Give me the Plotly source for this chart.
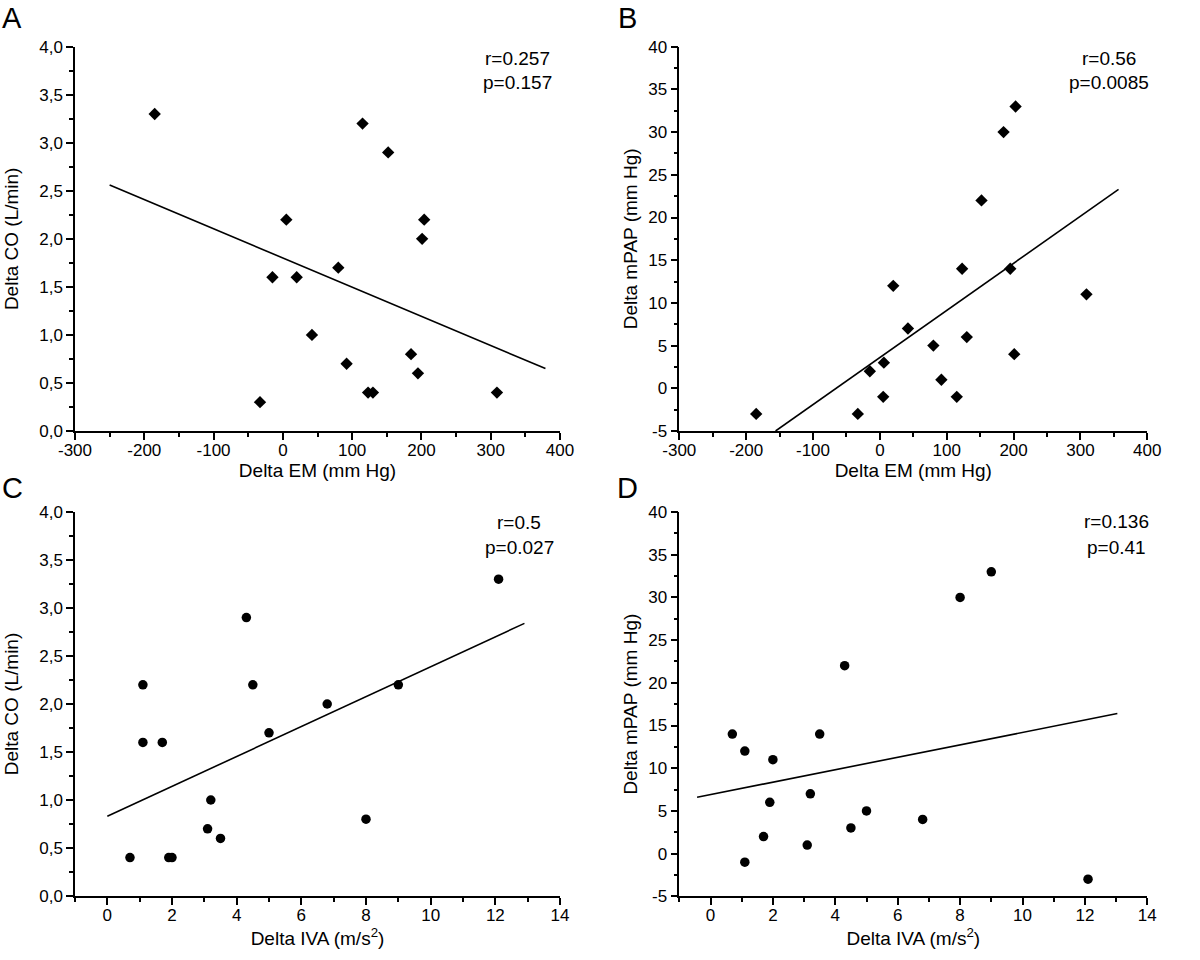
import plotly.graph_objects as go

# ---------------- data ----------------
# Panel A: Delta EM vs Delta CO
a_em = [-185, 115, 152, 5, 204, 201, 80, -15, 20, 42, 92, 185, 195, 123, 130, 309, -33]
a_co = [3.3, 3.2, 2.9, 2.2, 2.2, 2.0, 1.7, 1.6, 1.6, 1.0, 0.7, 0.8, 0.6, 0.4, 0.4, 0.4, 0.3]
a_fit_x = [-250, 379]
a_fit_y = [2.56, 0.65]
a_text = ["r=0.257", "p=0.157"]

# Panel B: Delta EM vs Delta mPAP
b_em = [-185, 203, 185, 152, 123, 195, 20, 309, 42, 130, 80, 201, 6, -15, 92, 5, 115, -33]
b_mpap = [-3, 33, 30, 22, 14, 14, 12, 11, 7, 6, 5, 4, 3, 2, 1, -1, -1, -3]
b_fit_x = [-156, 357]
b_fit_y = [-5, 23.3]
b_text = ["r=0.56", "p=0.0085"]

# Panel C: Delta IVA vs Delta CO
c_iva = [12.1, 4.3, 1.1, 4.5, 9.0, 6.8, 5.0, 1.1, 1.7, 3.2, 3.1, 8.0, 3.5, 0.7, 1.9, 2.0]
c_co = [3.3, 2.9, 2.2, 2.2, 2.2, 2.0, 1.7, 1.6, 1.6, 1.0, 0.7, 0.8, 0.6, 0.4, 0.4, 0.4]
c_fit_x = [0.0, 12.9]
c_fit_y = [0.83, 2.84]
c_text = ["r=0.5", "p=0.027"]

# Panel D: Delta IVA vs Delta mPAP
d_iva = [9.0, 8.0, 4.3, 0.7, 3.5, 1.1, 2.0, 3.2, 1.9, 5.0, 6.8, 4.5, 1.7, 3.1, 1.1, 12.1]
d_mpap = [33, 30, 22, 14, 14, 12, 11, 7, 6, 5, 4, 3, 2, 1, -1, -3]
d_fit_x = [-0.43, 13.04]
d_fit_y = [6.6, 16.4]
d_text = ["r=0.136", "p=0.41"]

# tick labels
em_ticks = [-300, -200, -100, 0, 100, 200, 300, 400]
iva_ticks = [0, 2, 4, 6, 8, 10, 12, 14]
co_ticks = [0.0, 0.5, 1.0, 1.5, 2.0, 2.5, 3.0, 3.5, 4.0]
co_tick_labels = ["0,0", "0,5", "1,0", "1,5", "2,0", "2,5", "3,0", "3,5", "4,0"]
mpap_ticks = [-5, 0, 5, 10, 15, 20, 25, 30, 35, 40]

panel_letters = ["A", "B", "C", "D"]
em_title = "Delta EM (mm Hg)"
iva_title = "Delta IVA (m/s<sup>2</sup>)"
co_title = "Delta CO (L/min)"
mpap_title = "Delta mPAP (mm Hg)"

# ---------------- layout helpers ----------------
PW, PH = 1200, 960
FONT = "Liberation Sans, Arial, Helvetica, sans-serif"

def px_x(p):
    return p / PW

def px_y(p):
    return 1 - p / PH

def labels(vals):
    return [str(v) for v in vals]

fig = go.Figure()

panels = [
    dict(x=a_em, y=a_co, fx=a_fit_x, fy=a_fit_y, sym="diamond", ax="x", ay="y",
         xd=[75, 560], yd=[46.7, 431], xr=[-300, 400], xtv=em_ticks, xtt=labels(em_ticks), xmdt=50,
         yr=[0, 4], ytv=co_ticks, ytt=co_tick_labels, ymdt=0.25, xt=em_title, yt=co_title,
         ys=16, txt=a_text, tx=517, ty=[58, 83], let=(12, 18)),
    dict(x=b_em, y=b_mpap, fx=b_fit_x, fy=b_fit_y, sym="diamond", ax="x2", ay="y2",
         xd=[679.3, 1147.3], yd=[46.7, 431], xr=[-300, 400], xtv=em_ticks, xtt=labels(em_ticks), xmdt=50,
         yr=[-5, 40], ytv=mpap_ticks, ytt=labels(mpap_ticks), ymdt=2.5, xt=em_title, yt=mpap_title,
         ys=6, txt=b_text, tx=1109, ty=[58, 83], let=(627, 18)),
    dict(x=c_iva, y=c_co, fx=c_fit_x, fy=c_fit_y, sym="circle", ax="x3", ay="y3",
         xd=[75, 560], yd=[512, 896], xr=[-1, 14], xtv=iva_ticks, xtt=labels(iva_ticks), xmdt=1,
         yr=[0, 4], ytv=co_ticks, ytt=co_tick_labels, ymdt=0.25, xt=iva_title, yt=co_title,
         ys=16, txt=c_text, tx=519, ty=[522, 547], let=(12, 488)),
    dict(x=d_iva, y=d_mpap, fx=d_fit_x, fy=d_fit_y, sym="circle", ax="x4", ay="y4",
         xd=[679.3, 1147.3], yd=[512, 896.3], xr=[-1, 14], xtv=iva_ticks, xtt=labels(iva_ticks), xmdt=1,
         yr=[-5, 40], ytv=mpap_ticks, ytt=labels(mpap_ticks), ymdt=2.5, xt=iva_title, yt=mpap_title,
         ys=6, txt=d_text, tx=1116, ty=[521, 547], let=(627, 488)),
]

annotations = []
layout_axes = {}
for i, p in enumerate(panels):
    fig.add_trace(go.Scatter(
        x=p["x"], y=p["y"], mode="markers", xaxis=p["ax"], yaxis=p["ay"],
        marker=dict(symbol=p["sym"], size=9.5, color="black", line=dict(width=0)),
        showlegend=False, cliponaxis=False))
    fig.add_trace(go.Scatter(
        x=p["fx"], y=p["fy"], mode="lines", xaxis=p["ax"], yaxis=p["ay"],
        line=dict(color="black", width=1.6), showlegend=False, cliponaxis=False))

    n = "" if i == 0 else str(i + 1)
    common = dict(showgrid=False, zeroline=False, showline=True, linecolor="black",
                  linewidth=1.5, ticks="outside", ticklen=7, tickwidth=1.5,
                  tickcolor="black", mirror=False, automargin=False,
                  tickfont=dict(family=FONT, size=17, color="black"))
    layout_axes["xaxis" + n] = dict(
        common, domain=[px_x(p["xd"][0]), px_x(p["xd"][1])], range=p["xr"],
        tickmode="array", tickvals=p["xtv"], ticktext=p["xtt"], anchor="y" + n,
        ticklabelstandoff=-4,
        minor=dict(ticks="outside", ticklen=4, tickwidth=1.5, tickcolor="black",
                   dtick=p["xmdt"], tick0=0, showgrid=False),
        title=dict(text=p["xt"], font=dict(family=FONT, size=19, color="black"), standoff=1))
    layout_axes["yaxis" + n] = dict(
        common, domain=[px_y(p["yd"][1]), px_y(p["yd"][0])], range=p["yr"],
        tickmode="array", tickvals=p["ytv"], ticktext=p["ytt"], anchor="x" + n,
        minor=dict(ticks="outside", ticklen=4, tickwidth=1.5, tickcolor="black",
                   dtick=p["ymdt"], tick0=0, showgrid=False),
        title=dict(text=p["yt"], font=dict(family=FONT, size=19, color="black"), standoff=p["ys"]))

    for t, yy in zip(p["txt"], p["ty"]):
        annotations.append(dict(text=t, x=px_x(p["tx"]), y=px_y(yy), xref="paper",
                                yref="paper", xanchor="center", yanchor="middle",
                                showarrow=False,
                                font=dict(family=FONT, size=19, color="black")))
    annotations.append(dict(text=panel_letters[i], x=px_x(p["let"][0]), y=px_y(p["let"][1]),
                            xref="paper", yref="paper", xanchor="center", yanchor="middle",
                            showarrow=False, font=dict(family=FONT, size=29, color="black")))

fig.update_layout(
    width=PW, height=PH, margin=dict(l=0, r=0, t=0, b=0),
    paper_bgcolor="white", plot_bgcolor="white",
    font=dict(family=FONT, color="black"),
    annotations=annotations,
    **layout_axes,
)

fig.write_html("out.html",
               config={"displayModeBar": False},
               post_script="document.body.style.margin='0';document.body.style.overflow='hidden';")
